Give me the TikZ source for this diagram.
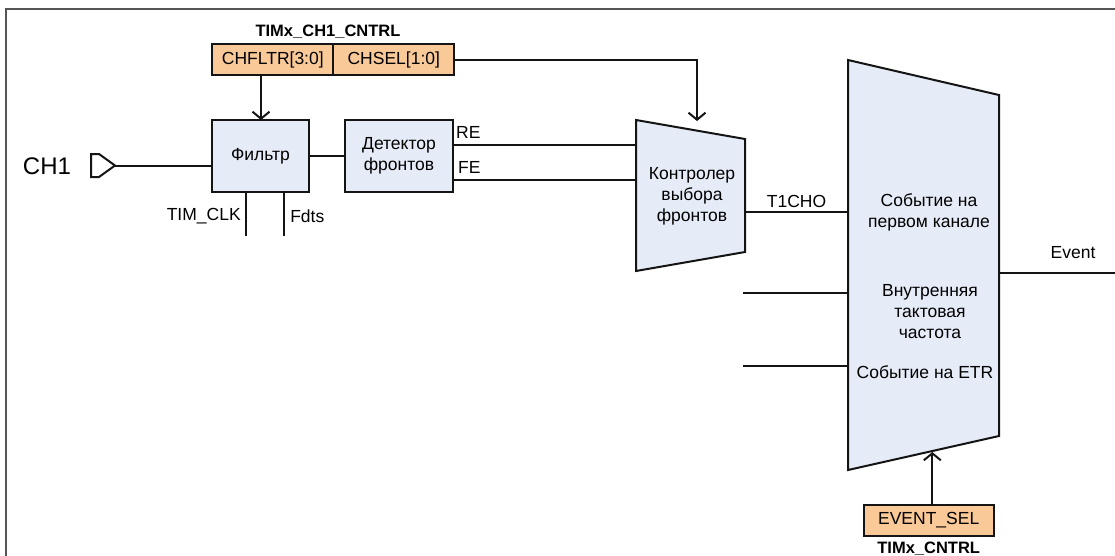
\documentclass[tikz,border=0pt]{standalone}
\usepackage{fontspec}
\setmainfont{Liberation Sans}
\usepackage{tikz}
\usepackage{xcolor}
\usetikzlibrary{arrows.meta, positioning, calc}
\definecolor{timerBlue}{RGB}{230,236,247}
\definecolor{timerOrange}{RGB}{250,201,152}
\definecolor{timerInk}{RGB}{20,20,20}
\definecolor{timerFrame}{RGB}{85,85,85}

\begin{document}
\begin{tikzpicture}[x=1pt, y=-1pt,
      block/.style={draw=timerInk, line width=2pt, fill=timerBlue, outer sep=0pt, minimum height=72pt,
      align=center, font=\fontsize{17.5}{21}\selectfont},
      reg/.style={draw=timerInk, line width=2pt, fill=timerOrange, outer sep=0pt, minimum height=31pt,
      font=\fontsize{17.5}{21}\selectfont},
      regname/.style={inner sep=0pt, font=\fontsize{16.5}{20}\selectfont\bfseries},
      lbl/.style={inner sep=1pt, align=center, font=\fontsize{17.5}{21}\selectfont},
      wire/.style={draw=timerInk, line width=2pt},
      arrow/.style={wire, -{Straight Barb[length=7pt, width=17pt]}}
    ]
    \useasboundingbox (0,0) rectangle (1115,555);
    \draw[timerFrame, line width=1.6pt] (6,556) -- (6,9) -- (1116,9);

    % control registers
    \node[regname] (ch1cntrl) at (328,32) {TIMx\_CH1\_CNTRL};
    \node[reg, minimum width=121pt] (chfltr) at (272.8,59.7) {CHFLTR[3:0]};
    \node[reg, minimum width=121pt, right=0pt of chfltr] (chsel) {CHSEL[1:0]};
    \node[reg, minimum width=130pt] (eventsel) at (928.7,520.5) {EVENT\_SEL};
    \node[regname, anchor=base] (cntrl) at (928.7,553) {TIMx\_CNTRL};

    % input stage
    \node[lbl, font=\fontsize{24}{28}\selectfont] (ch1) at (47,166) {CH1};
    \coordinate (ch1port) at (115,165.5);
    \draw[wire, fill=white] (ch1port) -- ++(-16,-11.5) -- ++(-8,0) -- ++(0,23) -- ++(8,0) -- cycle;
    \node[block, minimum width=97pt] (filter) at (260.5,156) {Фильтр};
    \node[block, minimum width=108pt, right=36pt of filter] (detector) {Детектор\\фронтов};

    % edge selector
    \coordinate (ctlA) at (636,120);
    \coordinate (ctlB) at (745,139);
    \coordinate (ctlC) at (745,252);
    \coordinate (ctlD) at (636,271);
    \draw[wire, fill=timerBlue] (ctlA) -- (ctlB) -- (ctlC) -- (ctlD) -- cycle;
    \node[lbl] (ctl) at (692,196) {Контролер\\выбора\\фронтов};

    % event multiplexer
    \coordinate (muxA) at (848,60);
    \coordinate (muxB) at (999,95);
    \coordinate (muxC) at (999,436);
    \coordinate (muxD) at (848,470);
    \draw[wire, fill=timerBlue] (muxA) -- (muxB) -- (muxC) -- (muxD) -- cycle;
    \node[lbl] (evch1) at (929,212) {Событие на\\первом канале};
    \node[lbl] (evclk) at (930,312) {Внутренняя\\тактовая\\частота};
    \node[lbl] (evetr) at (925,372) {Событие на ETR};

    \coordinate (reR) at (636,145);
    \coordinate (feR) at (636,180);
    \coordinate (ctlin) at (697,121);
    \coordinate (t1in) at (848,212);
    \coordinate (clkin) at (743,293);
    \coordinate (etrin) at (743,366);
    \coordinate (evout) at (1116,273);
    \coordinate (muxsel) at (932.3,452);

    \draw[wire] (ch1port) -- (ch1port -| filter.west);
    \draw[wire] (filter) -- (detector);
    \draw[arrow] ([xshift=-11.8pt]chfltr.south) -- ([xshift=-11.8pt]chfltr.south |- filter.north);
    \draw[wire] ([xshift=-14.8pt]filter.south) -- ++(0,44) node[lbl, pos=0.55, left=3pt] {TIM\_CLK};
    \draw[wire] ([xshift=23.8pt]filter.south) -- ++(0,44) node[lbl, pos=0.55, right=4pt] {Fdts};
    \draw[wire] (detector.east |- reR) -- (reR);
    \draw[wire] (detector.east |- feR) -- (feR);
    \node[lbl, anchor=west] (relbl) at (455,132) {RE};
    \node[lbl, anchor=west] (felbl) at (457,167) {FE};
    \draw[arrow] (chsel.east) -| (ctlin);
    \draw[wire] (ctlB |- t1in) -- node[lbl, above=2pt] {T1CHO} (t1in);
    \draw[wire] (clkin) -- (clkin -| muxA);
    \draw[wire] (etrin) -- (etrin -| muxA);
    \draw[wire] (muxB |- evout) -- (evout);
    \node[lbl] (event) at (1073,253) {Event};
    \draw[arrow] (eventsel.north -| muxsel) -- (muxsel);
  \end{tikzpicture}
\end{document}
